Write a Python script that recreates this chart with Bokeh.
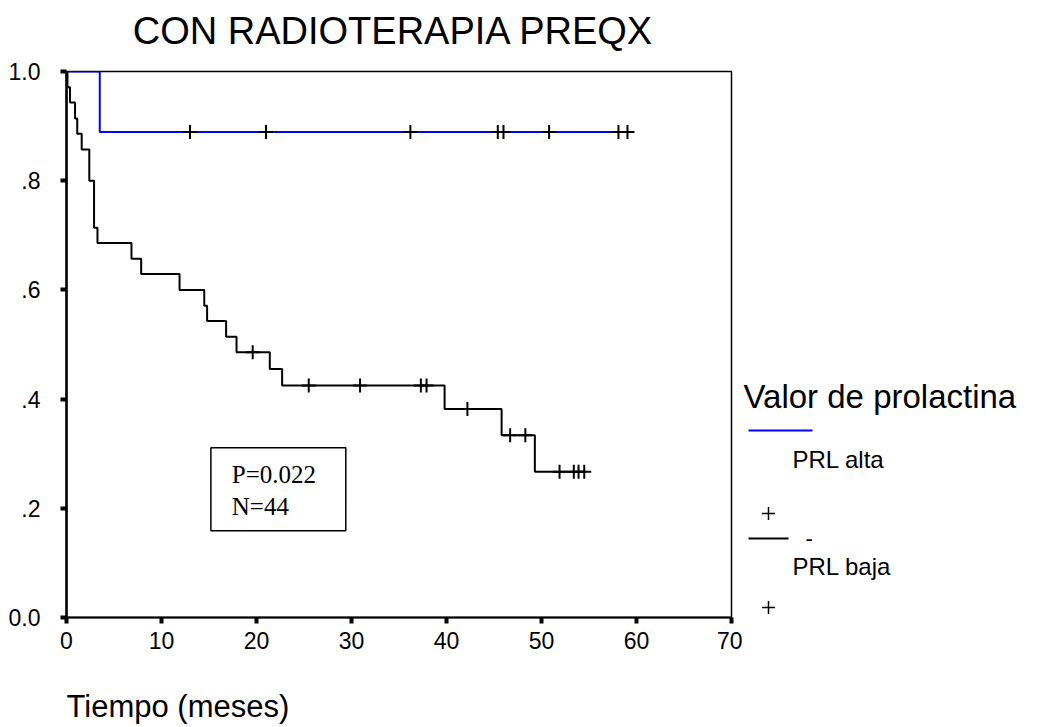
import numpy as np
from bokeh.plotting import figure
from bokeh.layouts import row, column
from bokeh.models import Range1d, FixedTicker, Label, BoxAnnotation
from bokeh.core.properties import value
from bokeh.embed import file_html
from bokeh.resources import INLINE

# ---------------- data ----------------
title_text = "CON RADIOTERAPIA PREQX"
x_label = "Tiempo (meses)"
legend_title = "Valor de prolactina"
group_names = ["PRL alta", "PRL baja"]

x_ticks = [0, 10, 20, 30, 40, 50, 60, 70]
y_ticks = [0, 0.2, 0.4, 0.6, 0.8, 1]
y_tick_labels = ["0.0", ".2", ".4", ".6", ".8", "1.0"]

# PRL alta: step times / survival, censored times
alta_t = [0.0, 3.5]
alta_s = [1.0, 0.889]
alta_cens = [13.0, 21.0, 36.2, 45.4, 46.0, 50.8, 58.1, 59.05]

# PRL baja
baja_t = [0.0, 0.1, 0.37, 0.9, 1.13, 1.6, 2.4, 2.9, 3.26, 6.84, 7.86, 11.9,
          14.5, 14.8, 16.8, 17.9, 21.4, 22.7, 39.8, 45.8, 49.3]
baja_s = [1.0, 0.971, 0.943, 0.914, 0.886, 0.857, 0.800, 0.714, 0.686, 0.657,
          0.629, 0.600, 0.571, 0.543, 0.514, 0.486, 0.455, 0.425, 0.382, 0.334, 0.267]
baja_cens = [19.6, 25.5, 30.9, 37.3, 37.9, 42.2, 46.7, 48.3, 51.9, 53.4, 53.9, 54.5]

stats_lines = ["P=0.022", "N=44"]

BLUE = "#0000ff"
SANS = "Liberation Sans"
SERIF = "Liberation Serif"

# ---------------- layout geometry (page pixels) ----------------
W, H = 1038, 727
LEFT, RIGHT_MAIN = 66, 731          # frame left/right
TOP, BOTTOM = 71, 617               # frame top/bottom
MAIN_W = 742
PAD_T = 16                          # room above the frame inside main figure
AXIS_H = 50                         # room for x ticks + labels
TOP_H = TOP - PAD_T                 # title strip height
MAIN_H = PAD_T + (BOTTOM - TOP) + AXIS_H
STRIP_B = H - TOP_H - MAIN_H        # bottom strip height
BOT_Y0 = TOP_H + MAIN_H             # page row where bottom strip starts


def blank(width, height, xr, yr, bl, br, bt, bb):
    f = figure(width=width, height=height, output_backend="svg",
               toolbar_location=None, x_range=Range1d(*xr), y_range=Range1d(*yr),
               x_axis_location=None, y_axis_location=None,
               min_border_left=bl, min_border_right=br,
               min_border_top=bt, min_border_bottom=bb)
    f.xgrid.visible = False
    f.ygrid.visible = False
    f.outline_line_color = None
    f.background_fill_color = "white"
    f.border_fill_color = "white"
    return f


# ---------------- top strip: title ----------------
top = blank(MAIN_W, TOP_H, (LEFT, RIGHT_MAIN), (TOP_H, 0),
            LEFT, MAIN_W - RIGHT_MAIN, 0, 0)
top.text(x=[393], y=[30], text=[title_text], text_font=value(SANS),
         text_font_size="38px", text_color="black", text_align="center",
         text_baseline="middle")

# ---------------- main figure ----------------
p = figure(width=MAIN_W, height=MAIN_H, output_backend="svg",
           toolbar_location=None, x_range=Range1d(0, 70), y_range=Range1d(0, 1),
           min_border_left=LEFT, min_border_right=MAIN_W - RIGHT_MAIN,
           min_border_top=PAD_T, min_border_bottom=AXIS_H)
p.background_fill_color = "white"
p.border_fill_color = "white"
p.outline_line_color = "black"
p.outline_line_width = 1.5
p.xgrid.visible = False
p.ygrid.visible = False

for ax in (p.xaxis[0], p.yaxis[0]):
    ax.axis_line_color = "black"
    ax.axis_line_width = 2
    ax.major_tick_in = 0
    ax.major_tick_out = 6
    ax.major_tick_line_width = 4
    ax.major_tick_line_color = "black"
    ax.minor_tick_line_color = None
    ax.major_label_text_font = SANS
    ax.major_label_text_font_size = "23px"
    ax.major_label_text_color = "black"

p.xaxis[0].ticker = FixedTicker(ticks=x_ticks)
p.xaxis[0].major_label_standoff = 8
p.yaxis[0].ticker = FixedTicker(ticks=y_ticks)
p.yaxis[0].major_label_overrides = {t: lab for t, lab in zip(y_ticks, y_tick_labels)}
p.yaxis[0].major_label_standoff = 20
p.yaxis[0].axis_line_width = 2.5


def step_path(t, s, cens):
    end = max(cens)
    return list(t) + [end], list(s) + [s[-1]]


def level_at(t, s, times):
    idx = np.searchsorted(np.array(t), np.array(times), side="right") - 1
    return [s[i] for i in idx]


ax_, ay_ = step_path(alta_t, alta_s, alta_cens)
bx_, by_ = step_path(baja_t, baja_s, baja_cens)
p.step(bx_, by_, mode="after", line_color="black", line_width=2)
p.step(ax_, ay_, mode="after", line_color=BLUE, line_width=2)

p.scatter(baja_cens, level_at(baja_t, baja_s, baja_cens), marker="cross",
          size=14, line_color="black", line_width=2)
p.scatter(alta_cens, level_at(alta_t, alta_s, alta_cens), marker="cross",
          size=14, line_color="black", line_width=2)

# stats box
p.add_layout(BoxAnnotation(left=15.2, right=29.4, bottom=0.159, top=0.311,
                           fill_color="white", fill_alpha=1.0,
                           line_color="black", line_alpha=1.0, line_width=1.5))
p.add_layout(Label(x=17.4, y=0.261, text=stats_lines[0], text_font=SERIF,
                   text_font_size="25px", text_color="black",
                   text_baseline="middle"))
p.add_layout(Label(x=17.4, y=0.203, text=stats_lines[1], text_font=SERIF,
                   text_font_size="25px", text_color="black",
                   text_baseline="middle"))

# ---------------- legend panel (y data = page pixel row) ----------------
q = blank(W - MAIN_W, MAIN_H, (0, W - MAIN_W), (BOTTOM, TOP),
          0, 0, PAD_T, AXIS_H)
q.text(x=[1], y=[396], text=[legend_title], text_font=value(SANS),
       text_font_size="33px", text_color="black", text_baseline="middle")
q.line([6, 70], [430, 430], line_color=BLUE, line_width=2)
q.text(x=[50], y=[459], text=[group_names[0]], text_font=value(SANS),
       text_font_size="24px", text_color="black", text_baseline="middle")
q.scatter([26], [513], marker="cross", size=13, line_color="black", line_width=1.5)
q.line([6, 46], [538, 538], line_color="black", line_width=2)
q.text(x=[63], y=[538], text=["-"], text_font=value(SANS),
       text_font_size="22px", text_color="black", text_baseline="middle")
q.text(x=[50], y=[566], text=[group_names[1]], text_font=value(SANS),
       text_font_size="24px", text_color="black", text_baseline="middle")
q.scatter([26], [607], marker="cross", size=13, line_color="black", line_width=1.5)

# ---------------- bottom strip: x axis title ----------------
bot = blank(MAIN_W, STRIP_B, (LEFT, RIGHT_MAIN), (H, BOT_Y0),
            LEFT, MAIN_W - RIGHT_MAIN, 0, 0)
bot.text(x=[LEFT], y=[706], text=[x_label], text_font=value(SANS),
         text_font_size="31px", text_color="black", text_align="left",
         text_baseline="middle")

layout = column(top, row(p, q), bot)
open("out.html", "w").write(file_html(layout, INLINE))
